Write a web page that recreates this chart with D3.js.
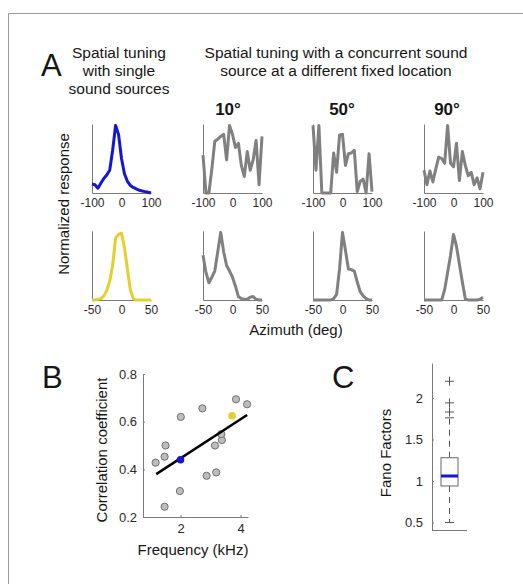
<!DOCTYPE html>
<html>
<head>
<meta charset="utf-8">
<script src="https://cdn.jsdelivr.net/npm/d3@7/dist/d3.min.js"></script>
<style>
  body { margin: 0; background: #fff; }
  svg { display: block; font-family: "Liberation Sans", Arial, sans-serif; }
</style>
</head>
<body>
<div id="chart"></div>
<script>
// ---- data ----
var azTop = [-100, -90, -80, -70, -60, -50, -40, -30, -20, -10, 0, 10, 20, 30, 40, 50, 60, 70, 80, 90, 100];
var singleBlue = [0.13, 0.12, 0.07, 0.14, 0.21, 0.26, 0.33, 0.62, 0.98, 0.85, 0.50, 0.28, 0.17, 0.11, 0.08, 0.06, 0.04, 0.03, 0.02, 0.01, 0.00];
var pairTop10 = [0.55, 0.00, 0.00, 0.35, 0.75, 0.78, 0.82, 0.85, 0.48, 0.98, 0.85, 0.66, 0.72, 0.40, 0.24, 0.60, 0.33, 0.48, 0.76, 0.12, 0.82];
var pairTop50 = [0.98, 0.33, 0.98, 0.00, 0.00, 0.00, 0.00, 0.58, 0.30, 0.84, 0.85, 0.40, 0.57, 0.58, 0.62, 0.02, 0.17, 0.20, 0.00, 0.57, 0.02];
var pairTop90 = [0.33, 0.12, 0.32, 0.16, 0.35, 0.52, 0.50, 0.43, 0.98, 0.43, 0.38, 0.72, 0.18, 0.60, 0.40, 0.25, 0.30, 0.12, 0.22, 0.06, 0.30];

var azBottom = [-50, -45, -40, -35, -30, -25, -20, -15, -10, -5, 0, 5, 10, 15, 20, 25, 30, 35, 40, 45, 50];
var singleYellow = [0.00, 0.00, 0.01, 0.02, 0.06, 0.14, 0.27, 0.50, 0.90, 0.95, 0.97, 0.76, 0.45, 0.15, 0.02, 0.00, 0.00, 0.00, 0.00, 0.00, 0.00];
var pairBottom10 = [0.65, 0.40, 0.25, 0.33, 0.42, 0.70, 0.98, 0.70, 0.50, 0.42, 0.33, 0.20, 0.05, 0.02, 0.01, 0.01, 0.04, 0.05, 0.01, 0.00, 0.00];
var pairBottom50 = [0.00, 0.00, 0.00, 0.00, 0.00, 0.00, 0.00, 0.02, 0.08, 0.45, 0.98, 0.72, 0.45, 0.44, 0.42, 0.26, 0.12, 0.06, 0.02, 0.00, 0.00];
var pairBottom90 = [0.00, 0.00, 0.00, 0.00, 0.00, 0.00, 0.00, 0.15, 0.40, 0.65, 0.95, 0.78, 0.52, 0.26, 0.02, 0.00, 0.00, 0.00, 0.00, 0.01, 0.04];

var concurrentLabels = ["10°", "50°", "90°"];

var freqKHz = [1.17, 1.47, 1.50, 2.01, 1.98, 1.47, 2.73, 2.87, 3.19, 3.15, 3.38, 3.36, 3.85, 4.22];
var corrCoef = [0.428, 0.453, 0.50, 0.62, 0.309, 0.243, 0.656, 0.373, 0.387, 0.50, 0.523, 0.548, 0.694, 0.673];
var exampleFreq = [2.0, 3.72];
var exampleCorr = [0.44, 0.625];
var exampleColor = ["#1515d8", "#e6cf2a"];
var fitFreq = [1.19, 4.22];
var fitCorr = [0.38, 0.628];

// lower whisker, Q1, median, Q3, upper whisker
var fanoBox = [0.5, 0.94, 1.06, 1.28, 1.76];
var fanoOutliers = [1.83, 1.94, 2.2];

// ---- drawing ----
var W = 523, H = 584;
var svg = d3.select("#chart").append("svg")
    .attr("width", W)
    .attr("height", H);

var axisGrey = "#7a7a7a", textCol = "#2a2a2a";

// frame
svg.append("path")
    .attr("d", "M8.5," + H + "V13.5H" + W)
    .attr("fill", "none")
    .attr("stroke", "#9a9a9a");

function styleAxis(g, size) {
  g.attr("font-family", null).attr("font-size", size);
  g.select(".domain").attr("stroke", axisGrey);
  g.selectAll(".tick line").attr("stroke", axisGrey);
  g.selectAll(".tick text").attr("fill", textCol);
}

function tuningPanel(x0, y0, az, vals, color, domain, ticks) {
  var w = 59, h = 69;
  var x = d3.scaleLinear().domain(domain).range([x0, x0 + w]);
  var y = d3.scaleLinear().domain([0, 1]).range([y0 + h, y0]);

  svg.append("g")
      .attr("transform", "translate(0," + (y0 + h) + ")")
      .call(d3.axisBottom(x).tickValues(ticks).tickSize(0).tickPadding(5)
        .tickFormat(function(d) { return String(d); }))
      .call(styleAxis, 12);
  svg.append("g")
      .attr("transform", "translate(" + x0 + ",0)")
      .call(d3.axisLeft(y).tickValues([]).tickSize(0))
      .call(styleAxis, 12);

  var line = d3.line()
      .x(function(d, i) { return x(az[i]); })
      .y(function(d) { return y(d); });
  svg.append("path")
      .datum(vals)
      .attr("d", line)
      .attr("fill", "none")
      .attr("stroke", color)
      .attr("stroke-width", 3)
      .attr("stroke-linejoin", "round");
}

var colX = [92, 203, 313, 424];
var topRows = [singleBlue, pairTop10, pairTop50, pairTop90];
var bottomRows = [singleYellow, pairBottom10, pairBottom50, pairBottom90];

topRows.forEach(function(v, i) {
  tuningPanel(colX[i], 124, azTop, v, i === 0 ? "#1515d8" : "#808080", [-100, 100], [-100, 0, 100]);
});
bottomRows.forEach(function(v, i) {
  tuningPanel(colX[i], 231, azBottom, v, i === 0 ? "#e6cf2a" : "#808080", [-50, 50], [-50, 0, 50]);
});

function text(x, y, s, size, opts) {
  opts = opts || {};
  var t = svg.append("text")
      .attr("x", x).attr("y", y)
      .attr("font-size", size)
      .attr("fill", opts.fill || "#161616")
      .attr("text-anchor", opts.anchor || "middle")
      .attr("font-weight", opts.weight || "normal")
      .text(s);
  if (opts.rotate) t.attr("transform", "rotate(-90," + x + "," + y + ")");
  return t;
}

// headings for panel A
text(41, 76, "A", 31, { anchor: "start" });
text(119, 58, "Spatial tuning", 15.5);
text(119, 76, "with single", 15.5);
text(119, 94, "sound sources", 15.5);
text(336, 58, "Spatial tuning with a concurrent sound", 15.5);
text(336, 76, "source at a different fixed location", 15.5);
var angleX = [228, 342, 447];
concurrentLabels.forEach(function(s, i) {
  text(angleX[i], 115, s, 17, { weight: "bold" });
});
text(69, 204, "Normalized response", 15, { rotate: true });
text(296, 335, "Azimuth (deg)", 15);

// ---- panel B ----
var bx = d3.scaleLinear().domain([0.75, 4.25]).range([143, 248]);
var by = d3.scaleLinear().domain([0.2, 0.8]).range([517, 374]);

svg.append("g")
    .attr("transform", "translate(0,517)")
    .call(d3.axisBottom(bx).tickValues([2, 4]).tickFormat(function(d) { return String(d); })
      .tickSizeInner(-2).tickSizeOuter(0).tickPadding(7))
    .call(styleAxis, 13);
svg.append("g")
    .attr("transform", "translate(143,0)")
    .call(d3.axisLeft(by).tickValues([0.2, 0.4, 0.6, 0.8]).tickFormat(d3.format(".1f"))
      .tickSizeInner(-2).tickSizeOuter(0).tickPadding(6))
    .call(styleAxis, 13);

svg.append("g").selectAll("circle")
    .data(freqKHz)
    .enter().append("circle")
    .attr("cx", function(d) { return bx(d); })
    .attr("cy", function(d, i) { return by(corrCoef[i]); })
    .attr("r", 3.6)
    .attr("fill", "#bdbdbd")
    .attr("stroke", "#6f6f6f")
    .attr("stroke-width", 1);

svg.append("line")
    .attr("x1", bx(fitFreq[0])).attr("y1", by(fitCorr[0]))
    .attr("x2", bx(fitFreq[1])).attr("y2", by(fitCorr[1]))
    .attr("stroke", "#000")
    .attr("stroke-width", 2.5);

svg.append("g").selectAll("circle")
    .data(exampleFreq)
    .enter().append("circle")
    .attr("cx", function(d) { return bx(d); })
    .attr("cy", function(d, i) { return by(exampleCorr[i]); })
    .attr("r", 3.8)
    .attr("fill", function(d, i) { return exampleColor[i]; });

text(42, 388, "B", 31, { anchor: "start" });
text(107, 450, "Correlation coefficient", 15, { rotate: true });
text(193, 555, "Frequency (kHz)", 15);

// ---- panel C ----
var cy = d3.scaleLinear().domain([0.41, 2.42]).range([530, 363]);
var cx0 = 432, cx1 = 467, mid = 449.5, bw = 17;

svg.append("g")
    .attr("transform", "translate(" + cx0 + ",0)")
    .call(d3.axisLeft(cy).tickValues([0.5, 1, 1.5, 2]).tickFormat(function(d) { return String(d); })
      .tickSizeInner(-2).tickSizeOuter(0).tickPadding(9))
    .call(styleAxis, 13);
svg.append("line")
    .attr("x1", cx0).attr("x2", cx1)
    .attr("y1", 530.5).attr("y2", 530.5)
    .attr("stroke", axisGrey);

var boxG = svg.append("g");
// whiskers
boxG.append("line")
    .attr("x1", mid).attr("x2", mid)
    .attr("y1", cy(fanoBox[3])).attr("y2", cy(fanoBox[4]))
    .attr("stroke", "#555").attr("stroke-dasharray", "6,5");
boxG.append("line")
    .attr("x1", mid).attr("x2", mid)
    .attr("y1", cy(fanoBox[1])).attr("y2", cy(fanoBox[0]))
    .attr("stroke", "#555").attr("stroke-dasharray", "6,5");
[fanoBox[0], fanoBox[4]].forEach(function(v) {
  boxG.append("line")
      .attr("x1", mid - 4.5).attr("x2", mid + 4.5)
      .attr("y1", cy(v)).attr("y2", cy(v))
      .attr("stroke", "#555");
});
boxG.append("rect")
    .attr("x", mid - bw / 2).attr("width", bw)
    .attr("y", cy(fanoBox[3])).attr("height", cy(fanoBox[1]) - cy(fanoBox[3]))
    .attr("fill", "#fff")
    .attr("stroke", "#666");
boxG.append("line")
    .attr("x1", mid - bw / 2).attr("x2", mid + bw / 2)
    .attr("y1", cy(fanoBox[2])).attr("y2", cy(fanoBox[2]))
    .attr("stroke", "#1515d8").attr("stroke-width", 3);
boxG.selectAll(".outlier")
    .data(fanoOutliers)
    .enter().append("path")
    .attr("class", "outlier")
    .attr("d", function(d) {
      var y = cy(d);
      return "M" + (mid - 4.5) + "," + y + "H" + (mid + 4.5) + "M" + mid + "," + (y - 4.5) + "V" + (y + 4.5);
    })
    .attr("stroke", "#555");

text(332, 388, "C", 31, { anchor: "start" });
text(391, 453, "Fano Factors", 15, { rotate: true });
</script>
</body>
</html>
